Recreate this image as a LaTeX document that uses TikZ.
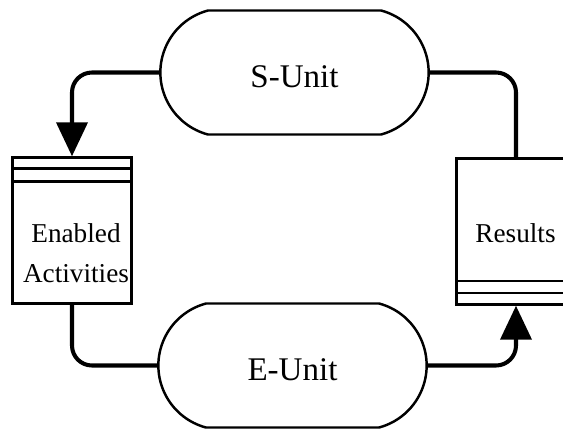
\documentclass[tikz,border=0pt]{standalone}
\usepackage{fontspec}
\setmainfont{Liberation Serif}
\usetikzlibrary{shapes.misc,arrows.meta}

\tikzstyle{unit} = [rounded rectangle, rounded rectangle arc length=150, draw,
    line width=1.4pt, minimum width=5.6cm, minimum height=2.48cm,
    text height=.62cm, font=\fontsize{18.8}{22}\selectfont]
\tikzstyle{queue} = [rectangle, draw, line width=1.4pt,
    minimum width=2.38cm, minimum height=2.92cm]
\tikzstyle{qtext} = [align=center, inner sep=0pt,
    font=\fontsize{15.5}{22.8}\selectfont]
\tikzstyle{flow} = [line width=2.3pt, rounded corners=.4cm]
\tikzstyle{flowarrow} = [flow, -{Triangle[length=.68cm, width=.62cm]}]

\begin{document}
\begin{tikzpicture}
	\clip (0,0) rectangle (11.26,8.56);
	\node [unit] (sunit) at (5.89,7.11) {S-Unit};
	\node [unit] (eunit) at (5.85,1.25) {E-Unit};
	%
	\node [queue] (enabled) at (1.44,3.95) {};
	\node [qtext] (enabledtxt) at (1.52,3.5) {Enabled\\Activities};
	\draw [line width=1.4pt] ([yshift=-.24cm]enabled.north west) -- ([yshift=-.24cm]enabled.north east);
	\draw [line width=1.4pt] ([yshift=-.5cm]enabled.north west) -- ([yshift=-.5cm]enabled.north east);
	%
	\node [queue] (results) at (10.32,3.93) {};
	\node [qtext] (resultstxt) at (10.31,3.9) {Results};
	\draw [line width=1.4pt] ([yshift=.26cm]results.south west) -- ([yshift=.26cm]results.south east);
	\draw [line width=1.4pt] ([yshift=.5cm]results.south west) -- ([yshift=.5cm]results.south east);
	%
	\draw [flowarrow] (sunit.west) -| (enabled.north);
	\draw [flow] (sunit.east) -| (results.north);
	\draw [flow] (enabled.south) |- (eunit.west);
	\draw [flowarrow] (eunit.east) -| (results.south);
\end{tikzpicture}
\end{document}
